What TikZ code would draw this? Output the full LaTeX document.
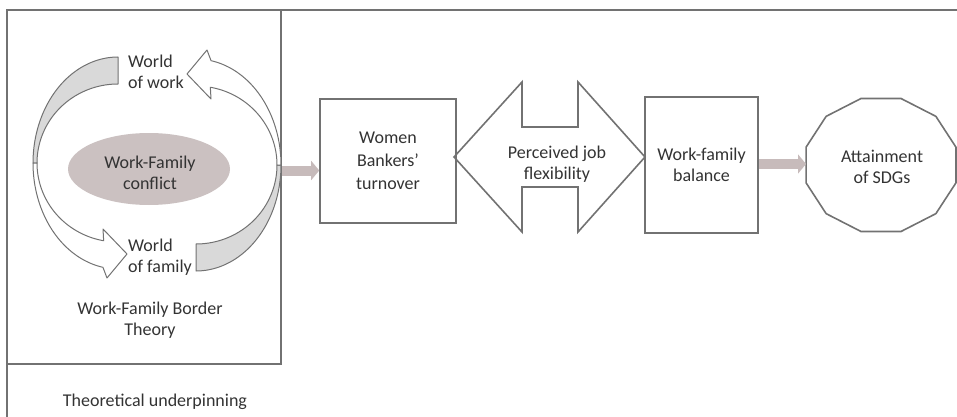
\documentclass[tikz,border=0pt]{standalone}
\usepackage{fontspec}
\setmainfont{Carlito}
\usetikzlibrary{arrows.meta,calc,shapes.geometric}
\definecolor{linec}{HTML}{727272}
\definecolor{txtc}{HTML}{333333}
\definecolor{bandc}{HTML}{D9D9D9}
\definecolor{ellc}{HTML}{CBC1C1}
\definecolor{conc}{HTML}{C7BBBB}
\tikzset{
  curvback/.pic={
    \filldraw[bandline, fill=bandc]
      plot[domain=270:180, samples=40] ({85*cos(\x)},{106*sin(\x)})
      -- plot[domain=180:270, samples=40] ({81*cos(\x)},{79*sin(\x)}) -- cycle;
  },
  curvfront/.pic={
    \filldraw[bandline, fill=white]
      plot[domain=180:100.2, samples=40] ({85*cos(\x)},{106*sin(\x)})
      -- (-11,115) -- (9,91) -- (-15,66)
      -- plot[domain=100.2:180, samples=40] ({81*cos(\x)},{79*sin(\x)}) -- cycle;
  }
}
\begin{document}
\begin{tikzpicture}[x=1pt,y=-1pt, font=\fontsize{18}{21}\selectfont, text=txtc,
  boxst/.style={draw=linec, line width=1.6pt, rectangle, inner sep=0pt, align=center},
  lbl/.style={inner sep=0pt, align=center},
  bandline/.style={draw=linec, line width=1pt, line join=round},
  conn/.style={draw=conc, line width=10pt, -{Triangle[width=19pt,length=8pt]}}]
\useasboundingbox (0,0) rectangle (957,417);

% outer frame
\draw[linec, line width=1.8pt] (7,417) -- (7,10) -- (957,10);

% theory box
\node[boxst, minimum width=274pt, minimum height=354pt] (tbox) at (144,187) {};

% central ellipse
\node[ellipse, fill=ellc, minimum width=162pt, minimum height=72pt, inner sep=0pt] (wfc) at (149,169) {};
\node[lbl] (wfct) at (150,173) {Work-Family\\conflict};

% curved arrows
\pic at (118,163) {curvback};
\pic[rotate=180] at (196,165) {curvback};
\pic at (118,163) {curvfront};
\pic[rotate=180] at (196,165) {curvfront};

\node[lbl, align=left, anchor=west] (wow) at (128,72) {World\\of work};
\node[lbl, align=left, anchor=west] (wof) at (128,257.5) {World\\of family};

\node[lbl] (bt) at (150,320) {Work-Family Border\\Theory};
\node[lbl] (tu) at (155,402) {Theoretical underpinning};

% women bankers
\node[boxst, minimum width=136pt, minimum height=124pt, font=\fontsize{18}{23}\selectfont] (wb) at (388,161) {Women\\Bankers’\\turnover};

% double arrow
\draw[linec, line width=1.6pt, line join=miter] (454,157) -- (522,82) -- (522,127) -- (578,127) -- (578,82) -- (645,157) -- (578,232) -- (578,187) -- (522,187) -- (522,232) -- cycle;
\node[lbl] (pjf) at (557,164) {Perceived job\\flexibility};

% work-family balance
\node[boxst, minimum width=113pt, minimum height=136pt] (wfb) at (701.5,165) {Work-family\\balance};

% dodecagon
\draw[linec, line width=1.6pt] plot[samples at={15,45,...,345}] ({881+77.6*cos(\x)},{165+68.8*sin(\x)}) -- cycle;
\node[lbl] (sdg) at (882,167) {Attainment\\of SDGs};
\coordinate (sdgw) at (806,165);

% connectors
\coordinate (y1) at (0,170.5);
\coordinate (y2) at (0,164);
\draw[conn] (tbox.east |- y1) -- (wb.west |- y1);
\draw[conn] (wfb.east |- y2) -- (sdgw |- y2);
\end{tikzpicture}
\end{document}
